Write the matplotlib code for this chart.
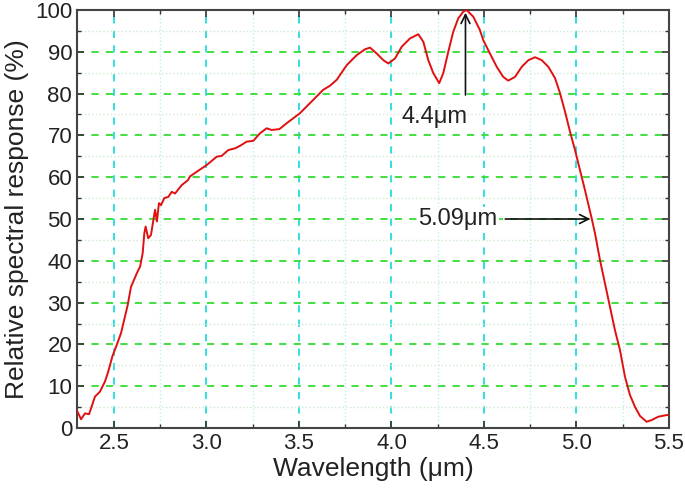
import matplotlib
matplotlib.use("Agg")
import matplotlib.pyplot as plt
from matplotlib.ticker import MultipleLocator

# spectral response
wavelength = [2.300, 2.307, 2.322, 2.343, 2.365, 2.379, 2.397, 2.424, 2.451, 2.469, 2.491,
              2.515, 2.538, 2.559, 2.574, 2.592, 2.604, 2.623, 2.641, 2.655, 2.664, 2.671,
              2.685, 2.700, 2.713, 2.722, 2.732, 2.743, 2.754, 2.772, 2.794, 2.812, 2.830,
              2.866, 2.900, 2.911, 2.947, 3.001, 3.055, 3.082, 3.118, 3.154, 3.181, 3.217,
              3.253, 3.289, 3.325, 3.352, 3.394, 3.433, 3.505, 3.577, 3.631, 3.668, 3.704,
              3.758, 3.812, 3.857, 3.884, 3.920, 3.956, 3.983, 4.019, 4.055, 4.100, 4.145,
              4.172, 4.199, 4.226, 4.258, 4.280, 4.307, 4.334, 4.361, 4.388, 4.406, 4.442,
              4.478, 4.496, 4.532, 4.569, 4.604, 4.631, 4.668, 4.704, 4.740, 4.776, 4.812,
              4.848, 4.884, 4.911, 4.938, 4.965, 4.992, 5.019, 5.046, 5.082, 5.100, 5.127,
              5.154, 5.181, 5.208, 5.235, 5.262, 5.289, 5.316, 5.343, 5.379, 5.406, 5.442,
              5.487, 5.500]
response = [4.2, 3.5, 2.1, 3.5, 3.3, 5.1, 7.5, 8.7, 11.1, 13.5, 17.1,
            19.9, 22.7, 26.6, 29.4, 33.8, 35.0, 37.0, 38.6, 41.8, 46.6, 48.2,
            45.4, 46.2, 49.8, 52.2, 49.4, 53.8, 53.3, 55.0, 55.3, 56.5, 56.1,
            58.1, 59.3, 60.2, 61.3, 62.9, 64.9, 65.1, 66.5, 66.9, 67.5, 68.5,
            68.7, 70.5, 71.7, 71.3, 71.5, 72.9, 75.3, 78.5, 80.9, 81.9, 83.3,
            86.8, 89.2, 90.6, 91.0, 89.6, 88.0, 87.2, 88.4, 91.2, 93.2, 94.2,
            92.4, 88.0, 84.9, 82.5, 84.9, 90.0, 94.8, 98.0, 99.6, 100.0, 98.4,
            95.2, 92.8, 89.6, 86.4, 84.0, 83.1, 84.0, 86.4, 88.0, 88.7, 88.0,
            86.4, 83.7, 80.1, 75.7, 70.9, 66.5, 61.7, 56.9, 50.2, 46.6, 40.2,
            34.6, 29.0, 23.4, 18.7, 12.3, 7.9, 5.1, 2.9, 1.5, 1.9, 2.7,
            3.1, 3.1]

peak = 4.4
cutoff = 5.09

plt.rcParams['font.family'] = ['Liberation Sans', 'DejaVu Sans']

fig = plt.figure(figsize=(6.85, 4.97), dpi=100)
ax = fig.add_axes([0.1124, 0.1388, 0.8642, 0.8411])

ax.plot(wavelength, response, color='#e01010', linewidth=1.4, zorder=3,
        solid_joinstyle='round')

ax.set_xlim(2.3, 5.5)
ax.set_ylim(0, 100)
ax.xaxis.set_major_locator(MultipleLocator(0.5))
ax.xaxis.set_minor_locator(MultipleLocator(0.25))
ax.yaxis.set_major_locator(MultipleLocator(10))
ax.yaxis.set_minor_locator(MultipleLocator(5))
ax.set_xticks([2.5, 3.0, 3.5, 4.0, 4.5, 5.0, 5.5])
ax.set_xticklabels(['2.5', '3.0', '3.5', '4.0', '4.5', '5.0', '5.5'])

ax.grid(True, axis='x', which='major', color='#22dddd', linestyle=(0, (4, 4)), linewidth=1.3)
ax.grid(True, axis='y', which='major', color='#33dd33', linestyle=(0, (4, 4)), linewidth=1.3)
ax.grid(True, axis='x', which='minor', color='#bff0f0', linestyle=':', linewidth=1.0)
ax.grid(True, axis='y', which='minor', color='#cfe8cf', linestyle=':', linewidth=1.0)

ax.tick_params(which='both', direction='in', top=True, right=True, colors='#333333',
               labelcolor='#222222')
ax.tick_params(which='major', length=5, width=1.2, labelsize=16)
ax.tick_params(which='minor', length=3, width=1.0)
for s in ax.spines.values():
    s.set_color('#444444')
    s.set_linewidth(1.5)

ax.set_xlabel('Wavelength (μm)', fontsize=19, color='#222222', labelpad=2)
ax.set_ylabel('Relative spectral response (%)', fontsize=19, color='#222222', labelpad=4)

ax.annotate('', xy=(peak, 100), xytext=(peak, 79),
            arrowprops=dict(arrowstyle='->', color='#111111', lw=1.2, mutation_scale=16))
ax.text(4.235, 74.5, '4.4μm', fontsize=17, ha='center', va='center', color='#222222')
ax.annotate('', xy=(cutoff, 50), xytext=(4.6, 50),
            arrowprops=dict(arrowstyle='->', color='#111111', lw=1.2, mutation_scale=16))
ax.text(4.36, 50, '5.09μm', fontsize=17, ha='center', va='center', color='#222222',
        bbox=dict(facecolor='white', edgecolor='none', pad=1))

fig.savefig('out.png', dpi=100)
